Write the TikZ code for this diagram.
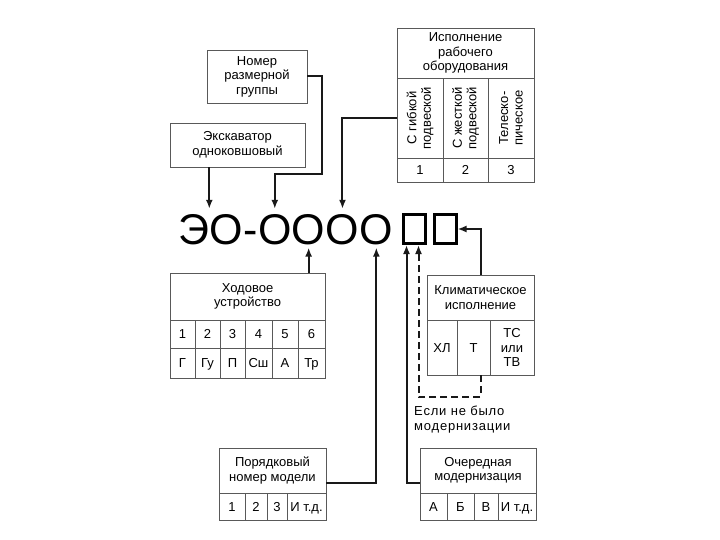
\documentclass[tikz,border=0pt]{standalone}
\usepackage{fontspec}
\setmainfont{Liberation Sans}
\newfontfamily\notefont[LetterSpace=6]{Liberation Sans}
\usetikzlibrary{arrows.meta}
\tikzstyle{box}=[rectangle, draw=black!65, line width=0.8pt, inner sep=1pt, align=center, font=\fontsize{13}{14.5}\selectfont]
\tikzstyle{num}=[rectangle, draw=black!65, line width=0.8pt, inner sep=1pt, text height=9.5pt, text depth=0pt, font=\fontsize{13}{14.5}\selectfont]
\tikzstyle{big}=[inner sep=0pt, anchor=base west, font=\fontsize{43}{43}\selectfont]
\tikzstyle{sq}=[rectangle, draw, line width=3pt, minimum width=22pt, minimum height=29pt]
\tikzstyle{arr}=[-{Latex[length=9pt,width=7pt]}, line width=2pt, draw=black!90]
\tikzstyle{darr}=[arr, dash pattern=on 7pt off 4pt]
\tikzstyle{note}=[anchor=north west, inner sep=0pt, align=left, font=\notefont\fontsize{13}{15}\selectfont]
\begin{document}
\begin{tikzpicture}[x=1pt, y=-1pt]
				\useasboundingbox (0,0) rectangle (720,540);
				
				%The index
				\draw (178,244) node[big] (e) {Э};
				\draw (e.base east) node[big] (o1) {О};
				\draw (o1.base east) node[big] (dash) {-};
				\draw (dash.base east) node[big] (o2) {О};
				\draw (o2.base east) node[big] (o3) {О};
				\draw (o3.base east) node[big] (o4) {О};
				\draw (o4.base east) node[big] (o5) {О};
				\draw (414.5,229) node[sq] (sq1) {};
				\draw (445,229) node[sq] (sq2) {};
				
				%The upper boxes
				\draw (257,76.5) node[box, minimum width=100pt, minimum height=53pt] (grp) {Номер\\размерной\\группы};
				\draw (237.5,145) node[box, minimum width=135pt, minimum height=44pt] (exc) {Экскаватор\\одноковшовый};
				
				\draw (465.5,53) node[box, minimum width=137pt, minimum height=50pt] (isp) {Исполнение\\рабочего\\оборудования};
				\draw (420,118) node[box, rotate=90, minimum width=80pt, minimum height=46pt] (isp1) {С гибкой\\подвеской};
				\draw (465.5,118) node[box, rotate=90, minimum width=80pt, minimum height=45pt] (isp2) {С жесткой\\подвеской};
				\draw (511,118) node[box, rotate=90, minimum width=80pt, minimum height=46pt] (isp3) {Телеско-\\пическое};
				\draw (420,170) node[num, minimum width=46pt, minimum height=24pt] (ispn1) {1};
				\draw (465.5,170) node[num, minimum width=45pt, minimum height=24pt] (ispn2) {2};
				\draw (511,170) node[num, minimum width=46pt, minimum height=24pt] (ispn3) {3};
				
				%The running gear
				\draw (247.5,296.5) node[box, minimum width=155pt, minimum height=47pt] (hod) {Ходовое\\устройство};
				\draw (182.5,334) node[num, minimum width=25pt, minimum height=28pt] (hodn1) {1};
				\draw (207.5,334) node[num, minimum width=25pt, minimum height=28pt] (hodn2) {2};
				\draw (232.5,334) node[num, minimum width=25pt, minimum height=28pt] (hodn3) {3};
				\draw (258.5,334) node[num, minimum width=27pt, minimum height=28pt] (hodn4) {4};
				\draw (285,334) node[num, minimum width=26pt, minimum height=28pt] (hodn5) {5};
				\draw (311.5,334) node[num, minimum width=27pt, minimum height=28pt] (hodn6) {6};
				\draw (182.5,363) node[num, minimum width=25pt, minimum height=30pt] (hodl1) {Г};
				\draw (207.5,363) node[num, minimum width=25pt, minimum height=30pt] (hodl2) {Гу};
				\draw (232.5,363) node[num, minimum width=25pt, minimum height=30pt] (hodl3) {П};
				\draw (258.5,363) node[num, minimum width=27pt, minimum height=30pt] (hodl4) {Сш};
				\draw (285,363) node[num, minimum width=26pt, minimum height=30pt] (hodl5) {А};
				\draw (311.5,363) node[num, minimum width=27pt, minimum height=30pt] (hodl6) {Тр};
				
				%The climate
				\draw (480.5,297.5) node[box, minimum width=107pt, minimum height=45pt] (klim) {Климатическое\\исполнение};
				\draw (442,347.5) node[num, minimum width=30pt, minimum height=55pt] (klim1) {ХЛ};
				\draw (473.5,347.5) node[num, minimum width=33pt, minimum height=55pt] (klim2) {Т};
				\draw (512,347.5) node[box, minimum width=44pt, minimum height=55pt] (klim3) {ТС\\или\\ТВ};
				\draw (414,406) node[note] (nomod) {Если не было\\модернизации};
				
				%The lower boxes
				\draw (272.5,470.5) node[box, minimum width=107pt, minimum height=45pt] (por) {Порядковый\\номер модели};
				\draw (232,506.5) node[num, minimum width=26pt, minimum height=27pt] (por1) {1};
				\draw (256,506.5) node[num, minimum width=22pt, minimum height=27pt] (por2) {2};
				\draw (277,506.5) node[num, minimum width=20pt, minimum height=27pt] (por3) {3};
				\draw (306.5,506.5) node[num, minimum width=39pt, minimum height=27pt] (por4) {И т.д.};
				
				\draw (478,470.5) node[box, minimum width=116pt, minimum height=45pt] (och) {Очередная\\модернизация};
				\draw (433.5,506.5) node[num, minimum width=27pt, minimum height=27pt] (och1) {А};
				\draw (460.5,506.5) node[num, minimum width=27pt, minimum height=27pt] (och2) {Б};
				\draw (486,506.5) node[num, minimum width=24pt, minimum height=27pt] (och3) {В};
				\draw (517,506.5) node[num, minimum width=38pt, minimum height=27pt] (och4) {И т.д.};
				
				%The arrows
				\coordinate (bend) at (322,174);
				\coordinate (dbend) at (450,397);
				\draw[arr, shorten >=5pt] (exc.south -| e.north east) -- (e.north east);
				\draw[arr, shorten >=5pt] (grp.east) -| (bend) -| (o2.north);
				\draw[arr, shorten >=5pt] (isp1.north) -| (o4.north);
				\draw[arr, shorten >=3pt] (o3.south |- hod.north) -- (o3.south);
				\draw[arr, shorten >=3pt] ([yshift=-12pt]por.east) -| (o5.south);
				\draw[arr] ([yshift=-12pt]och.west) -| ([xshift=-8pt]sq1.south);
				\draw[darr] (klim.center |- klim2.south) |- (dbend) -| ([xshift=4pt]sq1.south);
				\draw[arr] (klim.north) |- (sq2.east);
			\end{tikzpicture}
\end{document}
